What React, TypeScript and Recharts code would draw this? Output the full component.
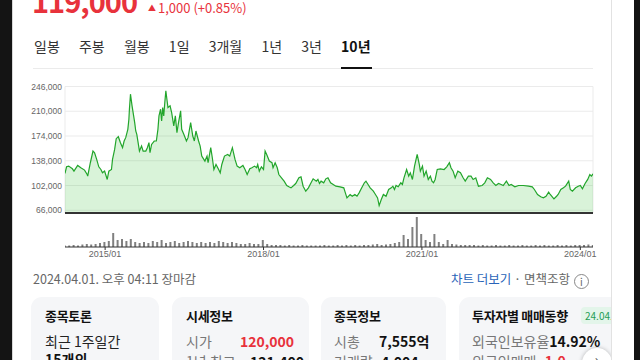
import { AreaChart, Area, XAxis, YAxis, CartesianGrid, ComposedChart, Bar } from 'recharts';

// 10년 종가 (원), 그림에서 읽은 값
const priceDates = [
  2014.24, 2014.27, 2014.31, 2014.38, 2014.41, 2014.48, 2014.54, 2014.61, 2014.66, 2014.67,
  2014.72, 2014.77, 2014.8, 2014.84, 2014.88, 2014.92, 2014.95, 2014.99, 2015.01, 2015.04,
  2015.07, 2015.12, 2015.14, 2015.18, 2015.21, 2015.25, 2015.29, 2015.33, 2015.36, 2015.39,
  2015.43, 2015.45, 2015.46, 2015.48, 2015.51, 2015.54, 2015.56, 2015.58, 2015.6, 2015.63,
  2015.65, 2015.69, 2015.72, 2015.77, 2015.8, 2015.83, 2015.85, 2015.88, 2015.93, 2015.97,
  2016.0, 2016.02, 2016.05, 2016.07, 2016.09, 2016.11, 2016.13, 2016.15, 2016.17, 2016.19,
  2016.23, 2016.26, 2016.3, 2016.33, 2016.36, 2016.39, 2016.43, 2016.45, 2016.49, 2016.54,
  2016.57, 2016.62, 2016.66, 2016.69, 2016.72, 2016.77, 2016.8, 2016.83, 2016.89, 2016.93,
  2016.95, 2017.0, 2017.03, 2017.06, 2017.1, 2017.15, 2017.18, 2017.21, 2017.26, 2017.32,
  2017.36, 2017.41, 2017.46, 2017.5, 2017.55, 2017.61, 2017.65, 2017.69, 2017.74, 2017.78,
  2017.83, 2017.87, 2017.89, 2017.92, 2017.96, 2018.0, 2018.03, 2018.06, 2018.11, 2018.16,
  2018.18, 2018.22, 2018.26, 2018.29, 2018.34, 2018.39, 2018.44, 2018.48, 2018.52, 2018.57,
  2018.61, 2018.67, 2018.71, 2018.75, 2018.8, 2018.85, 2018.9, 2018.94, 2019.0, 2019.03,
  2019.06, 2019.09, 2019.14, 2019.18, 2019.22, 2019.27, 2019.32, 2019.37, 2019.45, 2019.52,
  2019.55, 2019.58, 2019.64, 2019.68, 2019.73, 2019.77, 2019.81, 2019.86, 2019.91, 2019.94,
  2019.98, 2020.02, 2020.08, 2020.12, 2020.16, 2020.19, 2020.23, 2020.27, 2020.32, 2020.37,
  2020.42, 2020.45, 2020.48, 2020.51, 2020.55, 2020.6, 2020.63, 2020.66, 2020.71, 2020.75,
  2020.78, 2020.82, 2020.86, 2020.91, 2020.95, 2020.97, 2021.01, 2021.04, 2021.08, 2021.12,
  2021.16, 2021.19, 2021.22, 2021.25, 2021.29, 2021.35, 2021.42, 2021.47, 2021.52, 2021.55,
  2021.59, 2021.63, 2021.68, 2021.73, 2021.78, 2021.82, 2021.88, 2021.93, 2021.97, 2022.02,
  2022.07, 2022.14, 2022.19, 2022.24, 2022.3, 2022.35, 2022.4, 2022.45, 2022.5, 2022.54,
  2022.6, 2022.65, 2022.69, 2022.76, 2022.83, 2022.92, 2023.02, 2023.09, 2023.13, 2023.19,
  2023.25, 2023.3, 2023.35, 2023.4, 2023.43, 2023.5, 2023.55, 2023.58, 2023.63, 2023.68,
  2023.72, 2023.78, 2023.81, 2023.85, 2023.91, 2023.96, 2024.0, 2024.04, 2024.09, 2024.14,
  2024.18, 2024.21, 2024.24,
];

const prices = [
  119500, 129200, 130200, 126300, 122900, 131200, 127800, 124400, 118000, 115600,
  135100, 152100, 149700, 139900, 129200, 125300, 120500, 122900, 118000, 110800,
  122900, 125300, 139900, 154500, 170100, 173000, 164300, 157000, 166700, 171600,
  183700, 198300, 212900, 234800, 217800, 203200, 193500, 181300, 176400, 161800,
  152100, 159400, 152100, 152100, 157000, 164300, 149700, 161800, 166700, 166700,
  183700, 203200, 212900, 195900, 215400, 203200, 222600, 239700, 227500, 215400,
  217800, 208100, 188600, 203200, 178900, 193500, 210500, 183700, 176400, 166700,
  171600, 193500, 174000, 166700, 181300, 166700, 159400, 144800, 137500, 144800,
  135100, 157000, 142400, 125300, 132600, 125300, 120500, 132600, 144800, 147200,
  144800, 157000, 139900, 130200, 127800, 131200, 125300, 118000, 126300, 127800,
  130200, 127800, 132600, 122900, 129200, 125300, 152100, 147200, 137500, 135100,
  127800, 135100, 127800, 118000, 113200, 108300, 102000, 100100, 98600, 102000,
  104900, 113200, 114600, 101000, 93700, 98600, 105900, 111700, 108300, 110800,
  104900, 108300, 105900, 111700, 113200, 105900, 103500, 101000, 100100, 98600,
  91300, 84000, 88900, 86400, 88900, 86400, 91300, 98600, 105900, 108300,
  103500, 98600, 93700, 88900, 84000, 72800, 81600, 88900, 86400, 96200,
  98600, 101000, 96200, 102000, 100100, 105900, 103500, 113200, 125300, 115600,
  120500, 110800, 130200, 147200, 132600, 122900, 130200, 115600, 122900, 110800,
  115600, 108300, 105900, 110800, 125300, 126300, 125300, 129200, 135100, 127800,
  122900, 113200, 122900, 120500, 113200, 108300, 115600, 115600, 110800, 113200,
  101000, 102000, 105900, 113200, 110800, 105900, 102000, 104900, 103500, 102000,
  108300, 102000, 103500, 100100, 102000, 102000, 101000, 100100, 96200, 88900,
  85500, 84000, 86400, 92300, 88900, 82500, 86400, 88900, 96200, 98600,
  101000, 108300, 96200, 93700, 98600, 101000, 102000, 97100, 104900, 110800,
  118000, 115600, 119000,
];

// 월별 거래량 (만주), 2014년 4월부터
const volumeStart = 2014.24;
const volumes = [
  1.5, 1.5, 2, 1.5, 2.5, 3, 2.5, 3, 4,
  5, 6, 14, 7, 8, 6, 8, 5, 4, 5, 4, 6,
  5, 7, 4, 5, 6, 4, 5, 6, 5, 4, 5, 4,
  5, 4, 6, 5, 4, 5, 4, 3, 3, 4, 3, 3,
  7, 3, 2, 2, 2, 1.5, 2, 1.5, 1.5, 2, 1.5, 1.5,
  1.5, 1.5, 2, 1.5, 1.5, 2, 1.5, 2, 1.5, 2, 1.5, 2,
  2, 2.5, 3, 2, 2.5, 3, 4, 5, 12, 8, 20, 30,
  13, 7, 5, 13, 5, 3, 7, 3, 2.5, 2, 2, 2,
  2, 1.5, 2, 1.5, 1.5, 2, 1.5, 1.5, 2, 1.5, 1.5, 2,
  1.5, 1.5, 2, 1.5, 2, 1.5, 1.5, 2, 1.5, 2, 1.5, 2,
  2, 2, 2.5, 2,
];

const priceTicks = [66000, 102000, 138000, 174000, 210000, 246000];
const yearTicks = [2015, 2018, 2021, 2024];
const yearLabels = ['2015/01', '2018/01', '2021/01', '2024/01'];
const tabs = ['일봉', '주봉', '월봉', '1일', '3개월', '1년', '3년', '10년'];

const priceData = priceDates.map((t, i) => ({ t, price: prices[i] }));
const volumeData = volumes.map((vol, i) => ({ t: volumeStart + i / 12, vol }));

const KR = '"Noto Sans CJK KR", "Noto Sans", sans-serif';
const TICK = '"Liberation Sans", Arial, sans-serif';
const RED = '#e8323c';
const xDomain = [2014.24, 2024.24];

const cardStyle = (left: number, width: number): React.CSSProperties => ({
  position: 'absolute', left, top: 297, width, height: 90,
  background: '#f5f6f8', borderRadius: 11,
});
const titleStyle = (left: number): React.CSSProperties => ({
  position: 'absolute', left, top: 9, fontSize: 13, fontWeight: 700, color: '#111', whiteSpace: 'nowrap', letterSpacing: -0.3,
});
const rowStyle = (left: number, top: number, color: string, bold = false): React.CSSProperties => ({
  position: 'absolute', left, top, fontSize: 14, color, fontWeight: bold ? 700 : 400, whiteSpace: 'nowrap',
});

export default function App() {
  return (
    <div style={{ position: 'absolute', left: 0, top: 0, width: 640, height: 360, overflow: 'hidden', background: '#141414', fontFamily: KR }}>
      <div style={{ position: 'absolute', left: 611, top: 0, width: 23, height: 360, background: '#fff' }} />
      <div style={{ position: 'absolute', left: 12, top: 0, width: 598, height: 360, background: '#fff', borderLeft: '1px solid #d8d8d8', borderRight: '1px solid #e2e2e2', overflow: 'hidden' }}>
        <div style={{ position: 'absolute', left: -12, top: 0, width: 640, height: 360 }}>
          {/* 현재가 */}
          <div style={{ position: 'absolute', left: 31, top: -14, fontSize: 29, fontWeight: 700, color: RED, lineHeight: '29px', letterSpacing: -1 }}>119,000</div>
          <div style={{ position: 'absolute', left: 147, top: 0, fontSize: 13, color: RED, lineHeight: '16px' }}>
            <span style={{ fontSize: 8, verticalAlign: 2, marginRight: 2 }}>▲</span>1,000 (+0.85%)
          </div>

          {/* 기간 탭 */}
          <div style={{ position: 'absolute', left: 33, top: 36, display: 'flex', gap: 19.2, fontSize: 14, color: '#333', lineHeight: '20px' }}>
            {tabs.map((tb) => (
              <span key={tb} style={{ fontWeight: tb === '10년' ? 700 : 400, color: tb === '10년' ? '#111' : '#333' }}>{tb}</span>
            ))}
          </div>
          <div style={{ position: 'absolute', left: 32, top: 68, width: 560, height: 1, background: '#ebebeb' }} />
          <div style={{ position: 'absolute', left: 340, top: 67, width: 31, height: 2, background: '#111' }} />

          {/* 주가 차트 */}
          <div style={{ position: 'absolute', left: 0, top: 80 }}>
            <AreaChart width={600} height={135} data={priceData} margin={{ top: 6.5, right: 8, left: 0, bottom: 0 }}>
              <CartesianGrid stroke="#ebebeb" />
              <XAxis dataKey="t" type="number" domain={xDomain} ticks={yearTicks} allowDataOverflow tick={false} tickLine={false} height={2} axisLine={{ stroke: '#333', strokeWidth: 2 }} />
              <YAxis domain={[62000, 246000]} ticks={priceTicks} interval={0} allowDataOverflow width={64} tickLine={false} axisLine={false} tickSize={3} tickMargin={0}
                tick={{ fontSize: 8.5, fill: '#666', fontFamily: TICK }} tickFormatter={(v: number) => v.toLocaleString('en-US')} />
              <Area type="linear" dataKey="price" stroke="#22a52b" strokeWidth={1.2} fill="#2fbf2f" fillOpacity={0.18} dot={false} activeDot={false} isAnimationActive={false} />
            </AreaChart>
          </div>

          {/* 거래량 */}
          <div style={{ position: 'absolute', left: 0, top: 213 }}>
            <ComposedChart width={600} height={48} data={volumeData} margin={{ top: 2, right: 8, left: 64, bottom: 0 }}>
              <XAxis dataKey="t" type="number" domain={xDomain} ticks={yearTicks} interval={0} allowDataOverflow height={14} tickSize={3} tickMargin={1}
                axisLine={{ stroke: '#333' }} tickLine={{ stroke: '#333' }} tick={{ fontSize: 9, fill: '#666', fontFamily: TICK }}
                tickFormatter={(v: number) => yearLabels[yearTicks.indexOf(v)] ?? ''} />
              <YAxis hide domain={[0, 32]} />
              <Bar dataKey="vol" fill="#808080" barSize={2} isAnimationActive={false} />
            </ComposedChart>
          </div>

          <div style={{ position: 'absolute', left: 32, top: 270, fontSize: 12.5, color: '#666', lineHeight: '18px' }}>2024.04.01. 오후 04:11 장마감</div>
          <div style={{ position: 'absolute', left: 450, top: 270, fontSize: 12.5, color: '#666', lineHeight: '18px', whiteSpace: 'nowrap' }}>
            <span style={{ color: '#2a64b8' }}>차트 더보기</span> · 면책조항
            <span style={{ display: 'inline-block', width: 13, height: 13, border: '1px solid #888', borderRadius: 8, fontSize: 10, lineHeight: '13px', textAlign: 'center', marginLeft: 4, verticalAlign: -2 }}>i</span>
          </div>

          {/* 카드 */}
          <div style={cardStyle(30, 128)}>
            <div style={titleStyle(14)}>종목토론</div>
            <div style={rowStyle(14, 34, '#222')}>최근 1주일간</div>
            <div style={rowStyle(14, 52, '#111', true)}>15개의</div>
          </div>
          <div style={cardStyle(171, 137)}>
            <div style={titleStyle(14)}>시세정보</div>
            <div style={rowStyle(14, 34, '#777')}>시가</div>
            <div style={rowStyle(68, 34, RED, true)}>120,000</div>
            <div style={rowStyle(14, 54, '#777')}>1년 최고</div>
            <div style={rowStyle(78, 54, '#111', true)}>121,400</div>
          </div>
          <div style={cardStyle(320, 125)}>
            <div style={titleStyle(13)}>종목정보</div>
            <div style={rowStyle(13, 34, '#777')}>시총</div>
            <div style={rowStyle(58, 34, '#111', true)}>7,555억</div>
            <div style={rowStyle(13, 54, '#777')}>거래량</div>
            <div style={rowStyle(60, 54, '#111', true)}>4,004</div>
          </div>
          <div style={cardStyle(458, 180)}>
            <div style={titleStyle(13)}>투자자별 매매동향</div>
            <div style={{ position: 'absolute', left: 122, top: 10, fontSize: 10, color: '#1f9d55', background: '#e3f5ea', borderRadius: 4, padding: '0 4px', lineHeight: '17px' }}>24.04.01</div>
            <div style={rowStyle(13, 34, '#777')}>외국인보유율<b style={{ color: '#111' }}>14.92%</b></div>
            <div style={rowStyle(13, 54, '#777')}>외국인매매 <b style={{ color: RED }}>-1,0</b></div>
          </div>
          <div style={{ position: 'absolute', left: 581, top: 348, width: 30, height: 30, borderRadius: 16, background: '#fff', boxShadow: '0 0 4px rgba(0,0,0,0.25)', color: '#555', fontSize: 16, textAlign: 'center', lineHeight: '22px' }}>›</div>
        </div>
      </div>
    </div>
  );
}
